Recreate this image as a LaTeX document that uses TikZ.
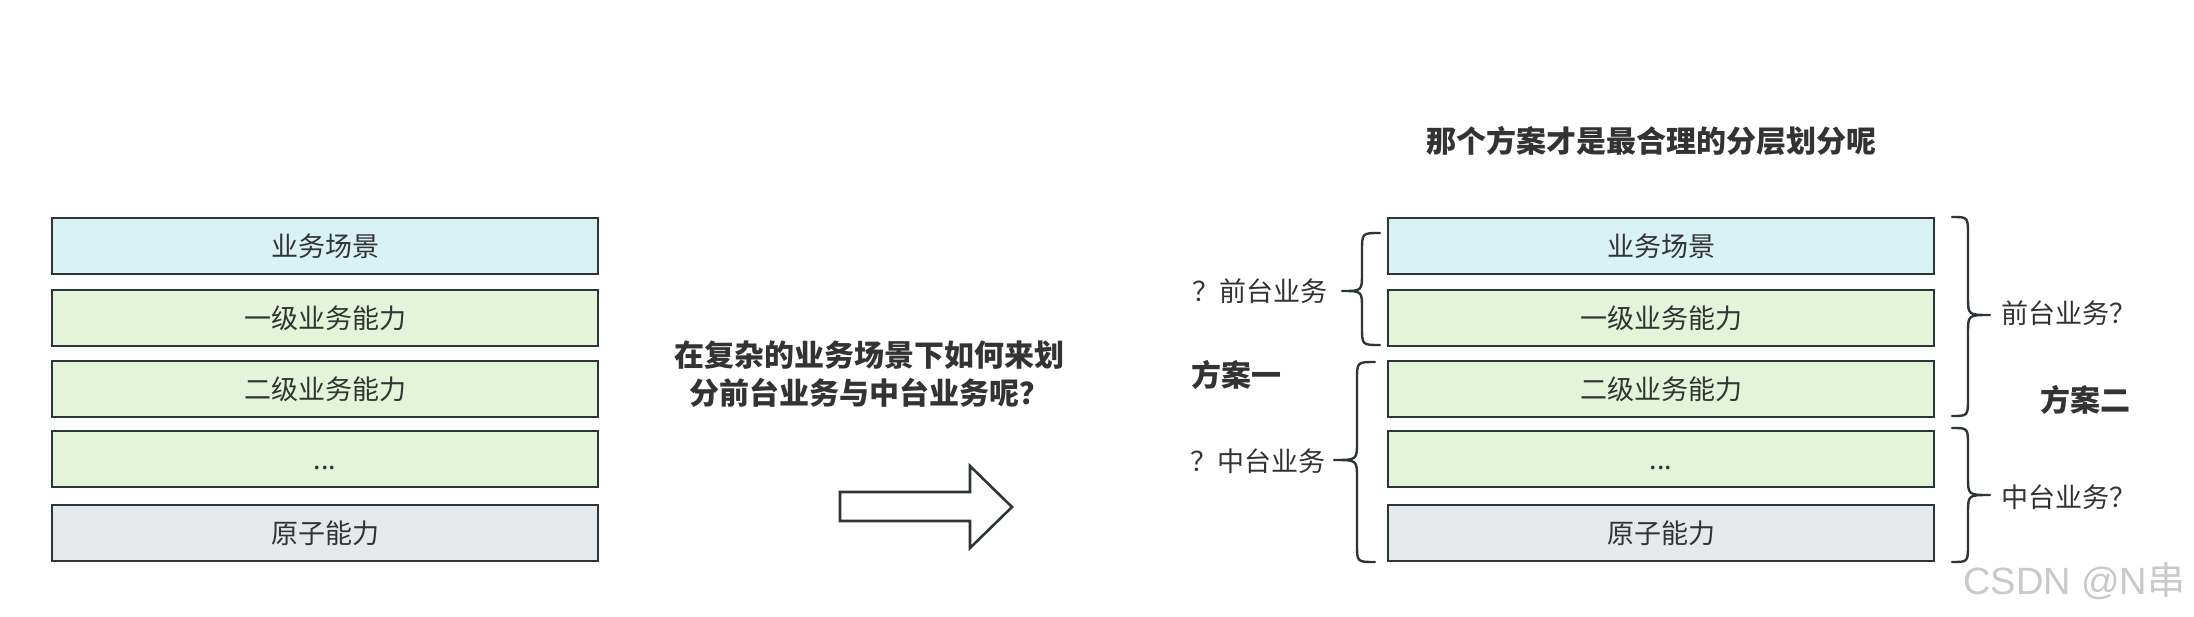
\documentclass[tikz,border=0pt]{standalone}
\usepackage{fontspec}
\setmainfont{Noto Sans CJK SC}
\newfontfamily\wmfont{Liberation Sans}
\definecolor{bordc}{HTML}{2E3538}
\definecolor{txtc}{HTML}{333333}
\definecolor{cyanf}{HTML}{D9F3F4}
\definecolor{greenf}{HTML}{E3F4D8}
\definecolor{grayf}{HTML}{E6E9EC}
\definecolor{wmc}{HTML}{C9C9C9}
\begin{document}
\begin{tikzpicture}[x=1pt,y=-1pt,
  layer/.style={draw=bordc, line width=2.6pt, minimum width=546pt, minimum height=56pt,
    inner sep=0pt, text=txtc, font=\fontsize{27}{32}\selectfont},
  scen/.style={layer, fill=cyanf},
  capab/.style={layer, fill=greenf},
  atom/.style={layer, fill=grayf},
  lbl/.style={inner sep=0pt, text=txtc, font=\fontsize{27}{32}\selectfont},
  bold/.style={inner sep=0pt, text=txtc, font=\fontsize{30}{38}\selectfont\bfseries},
  brc/.style={draw=bordc, line width=2.4pt, line cap=round, line join=round}]
\useasboundingbox (0,0) rectangle (2194,616);
\fill[white] (0,0) rectangle (2194,616);

% left stack
\node[scen]  (l1) at (325,246) {业务场景};
\node[capab] (l2) at (325,318) {一级业务能力};
\node[capab] (l3) at (325,389) {二级业务能力};
\node[capab] (l4) at (325,459) {\vphantom{业}...};
\node[atom]  (l5) at (325,533) {原子能力};

% question
\node[bold, align=center] (q) at (869,374) {在复杂的业务场景下如何来划\\分前台业务与中台业务呢？};

% arrow
\draw[draw=bordc, line width=2.6pt, line join=miter, fill=white]
  (840,492) -- (970,492) -- (970,466) -- (1012,507) -- (970,548) -- (970,521) -- (840,521) -- cycle;

% right stack
\node[bold] (t) at (1651,141) {那个方案才是最合理的分层划分呢};
\node[scen]  (r1) at (1661,246) {业务场景};
\node[capab] (r2) at (1661,318) {一级业务能力};
\node[capab] (r3) at (1661,389) {二级业务能力};
\node[capab] (r4) at (1661,459) {\vphantom{业}...};
\node[atom]  (r5) at (1661,533) {原子能力};

% scheme one (left braces)
\draw[brc] (1380,233) .. controls (1362,233) .. (1362,251) -- (1362,273)
  .. controls (1362,291) .. (1342,291) .. controls (1362,291) .. (1362,309)
  -- (1362,327) .. controls (1362,345) .. (1380,345);
\draw[brc] (1375,362) .. controls (1357,362) .. (1357,380) -- (1357,442)
  .. controls (1357,460) .. (1334,460) .. controls (1357,460) .. (1357,478)
  -- (1357,544) .. controls (1357,562) .. (1375,562);
\node[lbl, anchor=east] (f1) at (1328,291) {？前台业务};
\node[lbl, anchor=east] (m1) at (1326,461) {？中台业务};
\node[bold, anchor=west] (s1) at (1191,375) {方案一};

% scheme two (right braces)
\draw[brc] (1952,217) .. controls (1968,217) .. (1968,235) -- (1968,297)
  .. controls (1968,315) .. (1990,315) .. controls (1968,315) .. (1968,333)
  -- (1968,398) .. controls (1968,416) .. (1952,416);
\draw[brc] (1952,428) .. controls (1968,428) .. (1968,446) -- (1968,477)
  .. controls (1968,495) .. (1990,495) .. controls (1968,495) .. (1968,513)
  -- (1968,544) .. controls (1968,562) .. (1952,562);
\node[lbl, anchor=west] (f2) at (2001,313) {前台业务？};
\node[lbl, anchor=west] (m2) at (2001,497) {中台业务？};
\node[bold, anchor=west] (s2) at (2040,400) {方案二};

% watermark
\node[inner sep=0pt, anchor=west, text=wmc, font=\fontsize{38}{42}\selectfont] (wm) at (1963,581) {{\wmfont CSDN @N}串};
\end{tikzpicture}
\end{document}
